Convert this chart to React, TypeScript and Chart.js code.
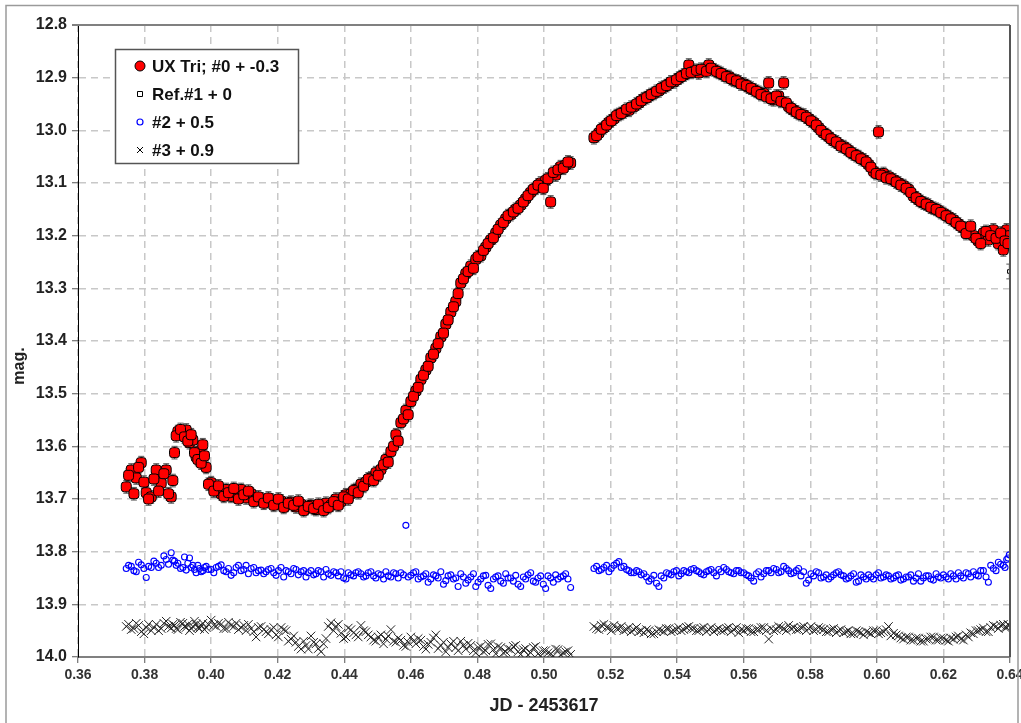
import { useEffect, useRef } from 'react';
import { Chart, registerables } from 'chart.js';
Chart.register(...registerables);

// Observation times (JD - 2453617), first block (two interleaved runs) and second block
const jdA = [
  0.3745, 0.3760, 0.3775, 0.3790, 0.3805, 0.3820, 0.3835, 0.3850, 0.3865, 0.3880,
  0.3890, 0.3900, 0.3915, 0.3925, 0.3935, 0.3945, 0.3955, 0.3965, 0.3975, 0.3985,
  0.4000, 0.4015, 0.4030, 0.4045, 0.4060, 0.4075, 0.4090, 0.4105, 0.4120, 0.4135,
  0.4150, 0.4165, 0.4180, 0.4195, 0.4210, 0.4225, 0.4240, 0.4255, 0.4270, 0.4285,
  0.4300, 0.4315, 0.4330, 0.4345, 0.4360, 0.4375, 0.4390, 0.4405, 0.4420, 0.4435,
  0.4450, 0.4465, 0.4480, 0.4495, 0.4510, 0.4525, 0.4540, 0.4555, 0.4570, 0.4585,
  0.4600, 0.4615, 0.4630, 0.4645, 0.4660, 0.4675, 0.4690, 0.4705, 0.4720, 0.4735,
  0.4750, 0.4765, 0.4780, 0.4795, 0.4810, 0.4825, 0.4840, 0.4855, 0.4870, 0.4885,
  0.4900, 0.4915, 0.4930, 0.4945, 0.4960, 0.4975, 0.4990, 0.5005, 0.5020, 0.5035,
  0.5050, 0.5065, 0.5080,
];
const jdC = [
  0.3752, 0.3768, 0.3782, 0.3798, 0.3812, 0.3828, 0.3842, 0.3858, 0.3872, 0.3885,
  0.3895, 0.3908, 0.3920, 0.3930, 0.3940, 0.3950, 0.3960, 0.3970, 0.3980, 0.3992,
  0.4008, 0.4022, 0.4038, 0.4052, 0.4068, 0.4082, 0.4098, 0.4112, 0.4128, 0.4142,
  0.4158, 0.4172, 0.4188, 0.4202, 0.4218, 0.4232, 0.4248, 0.4262, 0.4278, 0.4292,
  0.4308, 0.4322, 0.4338, 0.4352, 0.4368, 0.4382, 0.4398, 0.4412, 0.4428, 0.4442,
  0.4458, 0.4472, 0.4488, 0.4502, 0.4518, 0.4532, 0.4548, 0.4562, 0.4578, 0.4592,
  0.4608, 0.4622, 0.4638, 0.4652, 0.4668, 0.4682, 0.4698, 0.4712, 0.4728, 0.4742,
  0.4758, 0.4772, 0.4788, 0.4802, 0.4818, 0.4832, 0.4848, 0.4862, 0.4878, 0.4892,
  0.4908, 0.4922, 0.4938, 0.4952, 0.4968, 0.4982, 0.4998, 0.5012, 0.5028, 0.5042,
  0.5058, 0.5072,
];
const jdB = [
  0.5150, 0.5165, 0.5180, 0.5195, 0.5210, 0.5225, 0.5240, 0.5255, 0.5270, 0.5285,
  0.5300, 0.5315, 0.5330, 0.5345, 0.5360, 0.5375, 0.5390, 0.5405, 0.5420, 0.5435,
  0.5450, 0.5465, 0.5480, 0.5495, 0.5510, 0.5525, 0.5540, 0.5555, 0.5570, 0.5585,
  0.5600, 0.5615, 0.5630, 0.5645, 0.5660, 0.5675, 0.5690, 0.5705, 0.5720, 0.5735,
  0.5750, 0.5765, 0.5780, 0.5795, 0.5810, 0.5825, 0.5840, 0.5855, 0.5870, 0.5885,
  0.5900, 0.5915, 0.5930, 0.5945, 0.5960, 0.5975, 0.5990, 0.6005, 0.6020, 0.6035,
  0.6050, 0.6065, 0.6080, 0.6095, 0.6110, 0.6125, 0.6140, 0.6155, 0.6170, 0.6185,
  0.6200, 0.6215, 0.6230, 0.6245, 0.6260, 0.6275, 0.6290, 0.6305, 0.6320, 0.6335,
  0.6350, 0.6365, 0.6380, 0.6390, 0.6398,
];
const jdD = [
  0.5158, 0.5172, 0.5188, 0.5202, 0.5218, 0.5232, 0.5248, 0.5262, 0.5278, 0.5292,
  0.5308, 0.5322, 0.5338, 0.5352, 0.5368, 0.5382, 0.5398, 0.5412, 0.5428, 0.5442,
  0.5458, 0.5472, 0.5488, 0.5502, 0.5518, 0.5532, 0.5548, 0.5562, 0.5578, 0.5592,
  0.5608, 0.5622, 0.5638, 0.5652, 0.5668, 0.5682, 0.5698, 0.5712, 0.5728, 0.5742,
  0.5758, 0.5772, 0.5788, 0.5802, 0.5818, 0.5832, 0.5848, 0.5862, 0.5878, 0.5892,
  0.5908, 0.5922, 0.5938, 0.5952, 0.5968, 0.5982, 0.5998, 0.6012, 0.6028, 0.6042,
  0.6058, 0.6072, 0.6088, 0.6102, 0.6118, 0.6132, 0.6148, 0.6162, 0.6178, 0.6192,
  0.6208, 0.6222, 0.6238, 0.6252, 0.6268, 0.6282, 0.6298, 0.6312, 0.6328, 0.6342,
  0.6358, 0.6372, 0.6385, 0.6394,
];

// UX Tri; #0 + -0.3
const uxA = [
  13.677, 13.645, 13.660, 13.631, 13.688, 13.696, 13.645, 13.670, 13.645, 13.696,
  13.612, 13.572, 13.575, 13.569, 13.593, 13.588, 13.620, 13.610, 13.597, 13.640,
  13.669, 13.682, 13.690, 13.682, 13.695, 13.688, 13.682, 13.698, 13.690, 13.701,
  13.700, 13.705, 13.702, 13.708, 13.704, 13.712, 13.706, 13.715, 13.710, 13.718,
  13.712, 13.720, 13.715, 13.708, 13.712, 13.700, 13.705, 13.692, 13.690, 13.682,
  13.672, 13.668, 13.660, 13.650, 13.644, 13.625, 13.610, 13.578, 13.555, 13.532,
  13.515, 13.495, 13.473, 13.455, 13.432, 13.414, 13.392, 13.368, 13.345, 13.325,
  13.290, 13.272, 13.258, 13.245, 13.238, 13.222, 13.208, 13.195, 13.180, 13.168,
  13.160, 13.150, 13.142, 13.130, 13.118, 13.110, 13.100, 13.095, 13.136, 13.085,
  13.069, 13.066, 13.062,
];
const uxC = [
  13.655, 13.690, 13.640, 13.668, 13.700, 13.662, 13.685, 13.652, 13.690, 13.665,
  13.580, 13.568, 13.582, 13.590, 13.578, 13.612, 13.625, 13.632, 13.618, 13.672,
  13.685, 13.675, 13.695, 13.688, 13.680, 13.700, 13.692, 13.685, 13.705, 13.696,
  13.708, 13.698, 13.712, 13.700, 13.716, 13.708, 13.712, 13.704, 13.722, 13.714,
  13.718, 13.710, 13.722, 13.716, 13.705, 13.712, 13.696, 13.700, 13.684, 13.688,
  13.676, 13.662, 13.665, 13.655, 13.635, 13.630, 13.600, 13.590, 13.548, 13.540,
  13.505, 13.488, 13.465, 13.448, 13.425, 13.405, 13.385, 13.360, 13.335, 13.310,
  13.282, 13.268, 13.262, 13.240, 13.228, 13.215, 13.204, 13.188, 13.175, 13.162,
  13.155, 13.148, 13.136, 13.124, 13.112, 13.104, 13.110, 13.092, 13.080, 13.075,
  13.072, 13.060,
];
const uxB = [
  13.014, 13.005, 12.995, 12.985, 12.978, 12.970, 12.965, 12.962, 12.955, 12.948,
  12.940, 12.935, 12.930, 12.925, 12.918, 12.912, 12.908, 12.901, 12.895, 12.876,
  12.888, 12.891, 12.885, 12.876, 12.885, 12.890, 12.895, 12.898, 12.905, 12.908,
  12.912, 12.918, 12.923, 12.928, 12.930, 12.910, 12.942, 12.935, 12.910, 12.955,
  12.962, 12.968, 12.971, 12.978, 12.985, 12.995, 13.005, 13.012, 13.020, 13.026,
  13.031, 13.038, 13.045, 13.050, 13.056, 13.065, 13.078, 13.003, 13.082, 13.088,
  13.094, 13.100, 13.105, 13.112, 13.125, 13.132, 13.138, 13.142, 13.148, 13.152,
  13.158, 13.164, 13.170, 13.178, 13.185, 13.189, 13.200, 13.210, 13.195, 13.208,
  13.189, 13.215, 13.227, 13.189, 13.200,
];
const uxD = [
  13.010, 12.998, 12.990, 12.982, 12.972, 12.968, 12.960, 12.956, 12.950, 12.944,
  12.938, 12.932, 12.926, 12.920, 12.915, 12.908, 12.904, 12.898, 12.892, 12.890,
  12.886, 12.884, 12.888, 12.882, 12.888, 12.892, 12.898, 12.902, 12.906, 12.912,
  12.915, 12.920, 12.926, 12.932, 12.936, 12.940, 12.935, 12.945, 12.948, 12.958,
  12.965, 12.970, 12.975, 12.982, 12.990, 13.000, 13.008, 13.016, 13.022, 13.030,
  13.035, 13.042, 13.048, 13.054, 13.060, 13.070, 13.082, 13.085, 13.090, 13.092,
  13.098, 13.104, 13.110, 13.118, 13.128, 13.135, 13.140, 13.146, 13.150, 13.156,
  13.162, 13.168, 13.175, 13.182, 13.196, 13.182, 13.205, 13.215, 13.192, 13.200,
  13.205, 13.195, 13.210, 13.215,
];
const uxErr = 0.012;

// Ref.#1 + 0
const refJd = [0.6398];
const refMag = [13.268];
const refErr = 0.014;

// #2 + 0.5
const s2A = [
  13.832, 13.828, 13.838, 13.825, 13.849, 13.830, 13.822, 13.826, 13.815, 13.802,
  13.818, 13.822, 13.830, 13.835, 13.812, 13.826, 13.840, 13.832, 13.836, 13.828,
  13.834, 13.830, 13.825, 13.838, 13.845, 13.830, 13.836, 13.826, 13.832, 13.840,
  13.835, 13.838, 13.832, 13.845, 13.830, 13.836, 13.842, 13.834, 13.838, 13.848,
  13.836, 13.842, 13.838, 13.834, 13.845, 13.840, 13.838, 13.852, 13.844, 13.840,
  13.842, 13.846, 13.838, 13.850, 13.844, 13.838, 13.848, 13.842, 13.840, 13.750,
  13.845, 13.838, 13.848, 13.842, 13.852, 13.846, 13.838, 13.855, 13.844, 13.850,
  13.842, 13.860, 13.848, 13.866, 13.852, 13.845, 13.870, 13.848, 13.856, 13.842,
  13.850, 13.845, 13.866, 13.852, 13.840, 13.858, 13.846, 13.870, 13.850, 13.844,
  13.848, 13.842, 13.868,
];
const s2C = [
  13.826, 13.836, 13.820, 13.832, 13.828, 13.818, 13.830, 13.808, 13.824, 13.816,
  13.826, 13.832, 13.810, 13.822, 13.830, 13.834, 13.826, 13.838, 13.830, 13.834,
  13.840, 13.828, 13.836, 13.832, 13.840, 13.826, 13.834, 13.842, 13.830, 13.836,
  13.842, 13.834, 13.840, 13.836, 13.848, 13.838, 13.832, 13.844, 13.836, 13.840,
  13.844, 13.836, 13.848, 13.842, 13.838, 13.846, 13.850, 13.840, 13.846, 13.838,
  13.848, 13.840, 13.846, 13.842, 13.852, 13.846, 13.840, 13.850, 13.844, 13.848,
  13.840, 13.852, 13.846, 13.858, 13.844, 13.850, 13.862, 13.846, 13.852, 13.866,
  13.848, 13.854, 13.842, 13.858, 13.846, 13.864, 13.852, 13.846, 13.860, 13.850,
  13.856, 13.862, 13.848, 13.844, 13.856, 13.850, 13.862, 13.846, 13.858, 13.852,
  13.846, 13.852,
];
const s2B = [
  13.832, 13.836, 13.830, 13.838, 13.826, 13.819, 13.828, 13.836, 13.840, 13.838,
  13.842, 13.856, 13.845, 13.866, 13.850, 13.842, 13.838, 13.846, 13.836, 13.840,
  13.832, 13.838, 13.844, 13.836, 13.840, 13.834, 13.830, 13.838, 13.842, 13.836,
  13.840, 13.846, 13.856, 13.838, 13.842, 13.836, 13.832, 13.840, 13.828, 13.836,
  13.840, 13.832, 13.838, 13.854, 13.846, 13.840, 13.848, 13.852, 13.844, 13.838,
  13.846, 13.850, 13.842, 13.856, 13.848, 13.844, 13.852, 13.840, 13.848, 13.846,
  13.850, 13.844, 13.852, 13.848, 13.856, 13.842, 13.850, 13.846, 13.854, 13.848,
  13.844, 13.852, 13.846, 13.840, 13.850, 13.842, 13.838, 13.846, 13.836, 13.858,
  13.832, 13.820, 13.826, 13.815, 13.806,
];
const s2D = [
  13.828, 13.834, 13.826, 13.832, 13.822, 13.830, 13.834, 13.840, 13.836, 13.844,
  13.848, 13.852, 13.860, 13.846, 13.840, 13.844, 13.836, 13.842, 13.838, 13.834,
  13.836, 13.842, 13.838, 13.834, 13.846, 13.838, 13.834, 13.840, 13.836, 13.840,
  13.844, 13.850, 13.842, 13.848, 13.836, 13.840, 13.834, 13.838, 13.832, 13.842,
  13.836, 13.846, 13.860, 13.842, 13.838, 13.850, 13.844, 13.848, 13.840, 13.844,
  13.852, 13.846, 13.858, 13.844, 13.852, 13.848, 13.844, 13.850, 13.844, 13.852,
  13.846, 13.854, 13.848, 13.844, 13.850, 13.856, 13.846, 13.852, 13.842, 13.850,
  13.848, 13.842, 13.852, 13.846, 13.840, 13.848, 13.844, 13.836, 13.848, 13.826,
  13.836, 13.824, 13.830, 13.812,
];

// #3 + 0.9
const s3A = [
  13.942, 13.948, 13.936, 13.952, 13.944, 13.950, 13.938, 13.946, 13.932, 13.945,
  13.940, 13.948, 13.936, 13.944, 13.950, 13.942, 13.938, 13.946, 13.936, 13.944,
  13.930, 13.942, 13.938, 13.946, 13.940, 13.936, 13.944, 13.950, 13.946, 13.962,
  13.942, 13.952, 13.948, 13.958, 13.944, 13.950, 13.966, 13.972, 13.985, 13.978,
  13.960, 13.975, 13.990, 13.965, 13.935, 13.942, 13.955, 13.962, 13.948, 13.958,
  13.940, 13.952, 13.962, 13.970, 13.958, 13.966, 13.948, 13.972, 13.968, 13.980,
  13.962, 13.975, 13.968, 13.985, 13.972, 13.958, 13.978, 13.990, 13.975, 13.982,
  13.970, 13.985, 13.978, 13.992, 13.980, 13.988, 13.975, 13.994, 13.982, 13.990,
  13.986, 13.978, 13.995, 13.984, 13.992, 13.980, 13.998, 13.988, 13.994, 13.985,
  13.996, 13.990, 13.995,
];
const s3C = [
  13.938, 13.946, 13.940, 13.956, 13.938, 13.944, 13.950, 13.936, 13.942, 13.938,
  13.946, 13.934, 13.942, 13.938, 13.946, 13.932, 13.944, 13.940, 13.948, 13.938,
  13.940, 13.936, 13.946, 13.934, 13.942, 13.948, 13.940, 13.938, 13.952, 13.944,
  13.948, 13.956, 13.944, 13.962, 13.948, 13.970, 13.960, 13.980, 13.970, 13.985,
  13.972, 13.984, 13.975, 13.942, 13.950, 13.938, 13.965, 13.945, 13.954, 13.962,
  13.950, 13.958, 13.968, 13.962, 13.975, 13.960, 13.970, 13.964, 13.978, 13.972,
  13.970, 13.965, 13.980, 13.976, 13.964, 13.984, 13.972, 13.982, 13.970, 13.988,
  13.978, 13.974, 13.988, 13.982, 13.990, 13.976, 13.986, 13.980, 13.992, 13.984,
  13.980, 13.990, 13.986, 13.996, 13.982, 13.994, 13.988, 13.992, 13.998, 13.986,
  13.992, 13.988,
];
const s3B = [
  13.942, 13.948, 13.938, 13.944, 13.940, 13.946, 13.950, 13.944, 13.948, 13.952,
  13.954, 13.950, 13.956, 13.948, 13.952, 13.946, 13.950, 13.944, 13.948, 13.942,
  13.946, 13.950, 13.944, 13.948, 13.952, 13.946, 13.950, 13.944, 13.948, 13.954,
  13.950, 13.946, 13.952, 13.948, 13.944, 13.966, 13.950, 13.942, 13.946, 13.940,
  13.944, 13.948, 13.942, 13.946, 13.950, 13.944, 13.948, 13.952, 13.946, 13.950,
  13.954, 13.950, 13.956, 13.952, 13.958, 13.954, 13.950, 13.956, 13.952, 13.942,
  13.955, 13.960, 13.966, 13.962, 13.968, 13.964, 13.970, 13.966, 13.962, 13.968,
  13.964, 13.970, 13.966, 13.960, 13.968, 13.962, 13.956, 13.950, 13.945, 13.952,
  13.940, 13.946, 13.938, 13.944, 13.940,
];
const s3D = [
  13.946, 13.940, 13.944, 13.950, 13.946, 13.942, 13.948, 13.952, 13.944, 13.950,
  13.948, 13.956, 13.952, 13.950, 13.946, 13.952, 13.948, 13.950, 13.944, 13.946,
  13.950, 13.946, 13.952, 13.944, 13.948, 13.950, 13.946, 13.952, 13.944, 13.948,
  13.946, 13.952, 13.948, 13.944, 13.950, 13.946, 13.948, 13.944, 13.950, 13.946,
  13.948, 13.944, 13.950, 13.942, 13.948, 13.946, 13.952, 13.948, 13.954, 13.948,
  13.952, 13.956, 13.950, 13.954, 13.952, 13.956, 13.950, 13.954, 13.948, 13.960,
  13.958, 13.964, 13.962, 13.968, 13.964, 13.970, 13.966, 13.962, 13.968, 13.964,
  13.968, 13.964, 13.962, 13.966, 13.958, 13.954, 13.950, 13.948, 13.952, 13.944,
  13.942, 13.940, 13.944, 13.938,
];

const legendLabels = ['UX Tri; #0 + -0.3', 'Ref.#1 + 0', '#2 + 0.5', '#3 + 0.9'];
const xTitle = 'JD - 2453617';
const yTitle = 'mag.';

const pts = (xs: number[], ys: number[]) => xs.map((x, i) => ({ x, y: ys[i] }));

const FONT = "'Liberation Sans', Arial, sans-serif";

export default function App() {
  const ref = useRef<HTMLCanvasElement>(null);
  useEffect(() => {
    document.body.style.margin = '0';
    document.body.style.overflow = 'hidden';
    Chart.defaults.font.family = FONT;

    const errorBars = {
      id: 'errorBars',
      beforeDatasetDraw(chart: any, args: any) {
        const errs: Record<number, number> = { 0: uxErr, 1: refErr };
        if (!(args.index in errs)) return;
        const err = errs[args.index];
        const ys = chart.scales.y;
        const meta = chart.getDatasetMeta(args.index);
        const ds = chart.data.datasets[args.index].data as any[];
        const ctx = chart.ctx;
        const a = chart.chartArea;
        ctx.save();
        ctx.beginPath();
        ctx.rect(a.left, a.top, a.right - a.left, a.bottom - a.top);
        ctx.clip();
        ctx.strokeStyle = '#555';
        ctx.lineWidth = 1;
        meta.data.forEach((p: any, i: number) => {
          const v = ds[i].y;
          const y1 = ys.getPixelForValue(v - err);
          const y2 = ys.getPixelForValue(v + err);
          ctx.beginPath();
          ctx.moveTo(p.x, y1); ctx.lineTo(p.x, y2);
          ctx.moveTo(p.x - 3, y1); ctx.lineTo(p.x + 3, y1);
          ctx.moveTo(p.x - 3, y2); ctx.lineTo(p.x + 3, y2);
          ctx.stroke();
        });
        ctx.restore();
      },
    };

    const decorations = {
      id: 'decorations',
      afterDraw(chart: any) {
        const ctx = chart.ctx;
        const a = chart.chartArea;
        ctx.save();
        // outer frame
        ctx.strokeStyle = '#9a9a9a';
        ctx.lineWidth = 1.5;
        ctx.beginPath();
        ctx.moveTo(6, 723); ctx.lineTo(6, 5.5); ctx.lineTo(1018, 5.5); ctx.lineTo(1018, 723);
        ctx.stroke();
        // plot frame top & right
        ctx.strokeStyle = '#808080';
        ctx.lineWidth = 2;
        ctx.beginPath();
        ctx.moveTo(a.left - 6, a.top); ctx.lineTo(a.right, a.top);
        ctx.stroke();
        ctx.strokeStyle = '#555';
        ctx.beginPath();
        ctx.moveTo(a.right, a.top); ctx.lineTo(a.right, a.bottom);
        ctx.stroke();

        // y title
        ctx.fillStyle = '#222';
        ctx.font = `bold 16px ${FONT}`;
        ctx.textAlign = 'center';
        ctx.textBaseline = 'middle';
        ctx.translate(20, 366);
        ctx.rotate(-Math.PI / 2);
        ctx.fillText(yTitle, 0, 0);
        ctx.setTransform(1, 0, 0, 1, 0, 0);
        ctx.restore();

        // legend
        ctx.save();
        const bx = 115.5, by = 49.5, bw = 183, bh = 114;
        ctx.fillStyle = '#fff';
        ctx.fillRect(bx, by, bw, bh);
        ctx.strokeStyle = '#555';
        ctx.lineWidth = 1.5;
        ctx.strokeRect(bx, by, bw, bh);
        const rows = [66, 94, 122, 150];
        const mx = 140;
        ctx.lineWidth = 1;
        ctx.fillStyle = '#ff0000';
        ctx.strokeStyle = '#000';
        ctx.beginPath(); ctx.arc(mx, rows[0], 5, 0, Math.PI * 2); ctx.fill(); ctx.stroke();
        ctx.fillStyle = '#fff';
        ctx.beginPath(); ctx.rect(mx - 2.5, rows[1] - 2.5, 5, 5); ctx.fill(); ctx.stroke();
        ctx.strokeStyle = '#0000ff';
        ctx.lineWidth = 1.2;
        ctx.beginPath(); ctx.arc(mx, rows[2], 3, 0, Math.PI * 2); ctx.stroke();
        ctx.strokeStyle = '#000';
        ctx.lineWidth = 1;
        ctx.beginPath();
        ctx.moveTo(mx - 3, rows[3] - 3); ctx.lineTo(mx + 3, rows[3] + 3);
        ctx.moveTo(mx + 3, rows[3] - 3); ctx.lineTo(mx - 3, rows[3] + 3);
        ctx.stroke();
        ctx.fillStyle = '#111';
        ctx.font = `bold 17px ${FONT}`;
        ctx.textAlign = 'left';
        ctx.textBaseline = 'middle';
        legendLabels.forEach((t, i) => ctx.fillText(t, 152, rows[i] + 1));
        ctx.restore();
      },
    };

    const chart = new Chart(ref.current!, {
      type: 'scatter',
      data: {
        datasets: [
          {
            label: legendLabels[0],
            data: [...pts(jdA, uxA), ...pts(jdC, uxC), ...pts(jdB, uxB), ...pts(jdD, uxD)],
            pointStyle: 'rectRounded',
            pointRadius: 5.8,
            backgroundColor: '#ff0000',
            borderColor: '#000',
            borderWidth: 1,
          },
          {
            label: legendLabels[1],
            data: pts(refJd, refMag),
            pointStyle: 'rect',
            pointRadius: 2.5,
            backgroundColor: '#fff',
            borderColor: '#000',
            borderWidth: 1,
          },
          {
            label: legendLabels[2],
            data: [...pts(jdA, s2A), ...pts(jdC, s2C), ...pts(jdB, s2B), ...pts(jdD, s2D)],
            pointStyle: 'circle',
            pointRadius: 3,
            backgroundColor: 'rgba(255,255,255,0)',
            borderColor: '#0000ff',
            borderWidth: 1.1,
          },
          {
            label: legendLabels[3],
            data: [...pts(jdA, s3A), ...pts(jdC, s3C), ...pts(jdB, s3B), ...pts(jdD, s3D)],
            pointStyle: 'crossRot',
            pointRadius: 6,
            backgroundColor: '#000',
            borderColor: '#222',
            borderWidth: 1,
          },
        ],
      },
      options: {
        responsive: false,
        animation: false,
        events: [],
        layout: { padding: { left: 0, top: 25, right: 11, bottom: 0 } },
        plugins: { legend: { display: false }, tooltip: { enabled: false } },
        scales: {
          x: {
            type: 'linear',
            min: 0.36,
            max: 0.64,
            afterFit: (s: any) => { s.height = 66; s.paddingLeft = 0; s.paddingRight = 0; },
            ticks: {
              stepSize: 0.02,
              autoSkip: false,
              maxRotation: 0,
              padding: 4,
              color: '#333',
              font: { size: 14, weight: 'bold' },
              callback: (v: any) => Number(v).toFixed(2),
            },
            grid: {
              color: '#c8c8c8',
              lineWidth: 1.5,
              tickColor: '#555',
              tickLength: 6,
              tickWidth: 1,
            },
            border: { display: true, color: '#808080', width: 2, dash: [7, 5] },
            title: {
              display: true,
              text: xTitle,
              color: '#222',
              font: { size: 18, weight: 'bold' },
              padding: { top: 0, bottom: 6 },
            },
          },
          y: {
            type: 'linear',
            reverse: true,
            min: 12.8,
            max: 14.0,
            afterFit: (s: any) => { s.width = 78; s.paddingTop = 0; s.paddingBottom = 0; },
            ticks: {
              stepSize: 0.1,
              padding: 5,
              color: '#222',
              font: { size: 16, weight: 'bold' },
              callback: (v: any) => Number(v).toFixed(1),
            },
            grid: {
              color: '#c8c8c8',
              lineWidth: 1.5,
              tickColor: '#555',
              tickLength: 6,
              tickWidth: 1,
            },
            border: { display: true, color: '#000', width: 1, dash: [7, 5] },
          },
        },
      },
      plugins: [errorBars, decorations],
    } as any);
    return () => chart.destroy();
  }, []);

  return (
    <div style={{ width: 1021, height: 723 }}>
      <canvas ref={ref} width={1021} height={723} style={{ display: 'block', width: 1021, height: 723 }} />
    </div>
  );
}
